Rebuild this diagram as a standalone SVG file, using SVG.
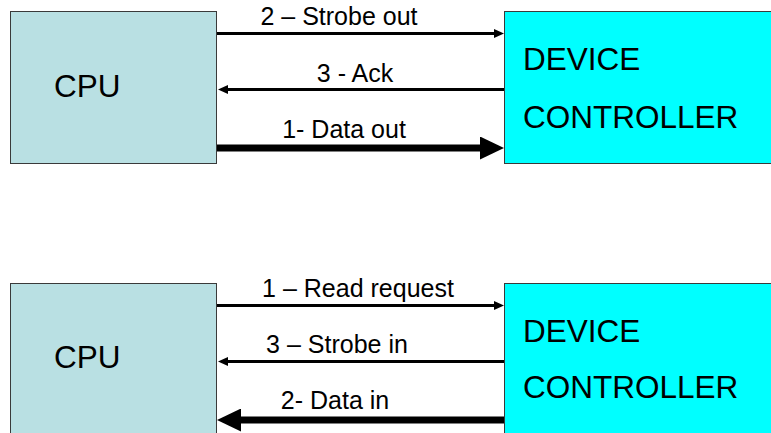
<svg xmlns="http://www.w3.org/2000/svg" width="771" height="433" viewBox="0 0 771 433">
  <style>
    .cpu { fill: #b9e0e3; stroke: #3a3a3a; stroke-width: 1; }
    .dev { fill: #00ffff; stroke: #3a3a3a; stroke-width: 1; }
    .big { font-family: "Liberation Sans", Arial, sans-serif; font-size: 31.5px; fill: #000; }
    .lbl { font-family: "Liberation Sans", Arial, sans-serif; font-size: 25px; fill: #000; text-anchor: middle; }
    .thin { stroke: #000; stroke-width: 3; fill: none; }
    .thick { stroke: #000; stroke-width: 7; fill: none; }
  </style>
  <defs>
    <marker id="headThin" markerUnits="userSpaceOnUse" markerWidth="10" markerHeight="9" refX="0" refY="4.5" orient="auto">
      <path d="M0,0 L10,4.5 L0,9 z" fill="#000"/>
    </marker>
    <marker id="headThick" markerUnits="userSpaceOnUse" markerWidth="24" markerHeight="23" refX="0" refY="11.5" orient="auto">
      <path d="M0,0 L24,11.5 L0,23 z" fill="#000"/>
    </marker>
  </defs>
  <rect width="771" height="433" fill="#fff"/>

  <!-- output handshake -->
  <g id="cpu-out">
    <rect class="cpu" x="10.5" y="11.5" width="206" height="152"/>
    <text class="big" x="54" y="97">CPU</text>
  </g>
  <g id="dev-out">
    <rect class="dev" x="504.5" y="11.5" width="280" height="152"/>
    <text class="big" x="523" y="70">DEVICE</text>
    <text class="big" x="523" y="128">CONTROLLER</text>
  </g>

  <!-- input handshake -->
  <g id="cpu-in">
    <rect class="cpu" x="10.5" y="283.5" width="206" height="160"/>
    <text class="big" x="54" y="368">CPU</text>
  </g>
  <g id="dev-in">
    <rect class="dev" x="504.5" y="283.5" width="280" height="160"/>
    <text class="big" x="523" y="342">DEVICE</text>
    <text class="big" x="523" y="398">CONTROLLER</text>
  </g>

  <g id="connectors">
    <line class="thin" x1="217" y1="33.5" x2="494" y2="33.5" marker-end="url(#headThin)"/>
    <text class="lbl" x="339" y="25">2 – Strobe out</text>
    <line class="thin" x1="504" y1="89.5" x2="228" y2="89.5" marker-end="url(#headThin)"/>
    <text class="lbl" x="355" y="82">3 - Ack</text>
    <line class="thick" x1="217" y1="148" x2="480" y2="148" marker-end="url(#headThick)"/>
    <text class="lbl" x="344" y="138">1- Data out</text>

    <line class="thin" x1="217" y1="305.5" x2="494" y2="305.5" marker-end="url(#headThin)"/>
    <text class="lbl" x="358" y="297">1 – Read request</text>
    <line class="thin" x1="504" y1="361.5" x2="228" y2="361.5" marker-end="url(#headThin)"/>
    <text class="lbl" x="337" y="353">3 – Strobe in</text>
    <line class="thick" x1="504" y1="420" x2="241" y2="420" marker-end="url(#headThick)"/>
    <text class="lbl" x="335" y="409">2- Data in</text>
  </g>
</svg>
